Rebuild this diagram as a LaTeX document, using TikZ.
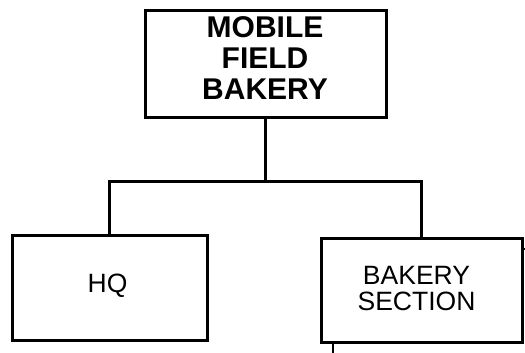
\documentclass[tikz,border=0pt]{standalone}
\usepackage{fontspec}
\setmainfont{Liberation Sans}
\begin{document}
\begin{tikzpicture}[x=1pt,y=-1pt,
  box/.style={draw=black,line width=3pt,fill=white,inner sep=0pt},
  txt/.style={align=center,inner sep=0pt},
  conn/.style={draw=black,line width=3pt}]
\useasboundingbox (0,0) rectangle (525,353);
\node[box,minimum width=241pt,minimum height=106pt] (top) at (265.5,64) {};
\node[txt,font=\fontsize{30}{31}\selectfont\bfseries] (toptxt) at (265,58.5) {MOBILE\\FIELD\\BAKERY};
\node[box,minimum width=195pt,minimum height=105pt] (hq) at (109.5,287.5) {};
\node[txt,font=\fontsize{26.5}{25.5}\selectfont] (hqtxt) at (107.5,286) {HQ};
\node[box,minimum width=201pt,minimum height=104pt] (bs) at (421.5,290) {};
\node[txt,font=\fontsize{26.5}{25.5}\selectfont] (bstxt) at (416.5,288.5) {BAKERY\\SECTION};
\coordinate (bus) at (0,181);
\draw[conn] (top.south) -- (top.south |- bus);
\draw[conn,line join=miter] (hq.north) -- (hq.north |- bus) -- (bs.north |- bus) -- (bs.north);
\coordinate (tickend) at (525,249);
\coordinate (stubend) at (333,353);
\draw[line width=1.8pt] (bs.east |- tickend) -- (tickend);
\draw[line width=2.2pt] (bs.south -| stubend) -- (stubend);
\end{tikzpicture}
\end{document}
